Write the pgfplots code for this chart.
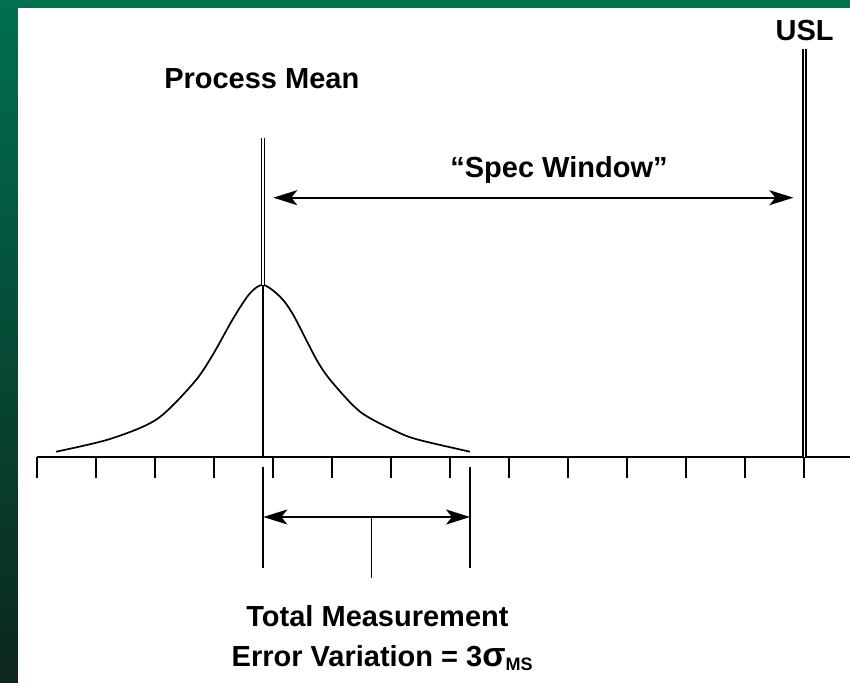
\documentclass[border=0pt]{standalone}
\usepackage{fontspec}
\setmainfont{Liberation Sans}
\usepackage{pgfplots}
\pgfplotsset{compat=1.18}
\usetikzlibrary{arrows.meta}

\definecolor{slidetop}{RGB}{0,112,80}
\definecolor{slidebot}{RGB}{12,38,30}

\begin{document}
\begin{tikzpicture}[
    lbl/.style={font=\fontsize{14.5}{17}\selectfont\bfseries, anchor=base, inner sep=0pt},
    arr/.style={line width=0.9pt, {Stealth[length=12pt,width=7.5pt,inset=3pt]}-{Stealth[length=12pt,width=7.5pt,inset=3pt]}},
]
\begin{axis}[
    width=425pt, height=341.5pt, scale only axis,
    xmin=-0.62712, xmax=13.77966,
    ymin=-226, ymax=457,
    hide axis, clip=false,
]
% slide background
\fill[top color=slidetop, bottom color=slidebot] (axis cs:-0.62712,-226) rectangle (axis cs:13.77966,457);
\fill[white] (axis cs:-0.322,-240) rectangle (axis cs:14,449);

% scale line with ticks
\draw[line width=0.9pt] (axis cs:0,0) -- (axis cs:14,0);
\addplot[ycomb, line width=0.9pt, mark=none] coordinates {
    (0,-21) (1,-21) (2,-21) (3,-21) (4,-21) (5,-21) (6,-21)
    (7,-21) (8,-21) (9,-21) (10,-21) (11,-21) (12,-21) (13,-21)
};

% measurement distribution
\addplot[smooth, line width=0.85pt, mark=none] coordinates {
    (0.322,5.3) (1.237,18) (2.029,37.7) (2.649,73.7) (2.961,100.3)
    (3.327,138.7) (3.610,163.7) (3.836,172) (4.119,160.3) (4.344,142)
    (4.741,97) (4.995,75.3) (5.475,45.3) (6.039,27) (6.436,17.7) (7.339,5.3)
};

% process mean
\draw[line width=0.9pt] (axis cs:3.836,0) -- (axis cs:3.836,172);
\draw[line width=0.6pt, double, double distance=0.9pt] (axis cs:3.836,172) -- (axis cs:3.836,319);
\node[lbl] at (axis cs:3.81,368) {Process Mean};

% USL
\draw[line width=0.6pt, double, double distance=0.9pt] (axis cs:13.008,0) -- (axis cs:13.008,408);
\node[lbl] at (axis cs:13.01,416) {USL};

% spec window
\draw[arr] (axis cs:4.005,259.3) -- (axis cs:12.82,259.3);
\node[lbl] at (axis cs:8.847,279) {``Spec Window''};

% measurement error span
\draw[line width=0.9pt] (axis cs:3.836,-10) -- (axis cs:3.836,-111);
\draw[line width=0.9pt] (axis cs:7.339,-10) -- (axis cs:7.339,-111);
\draw[arr] (axis cs:3.836,-60) -- (axis cs:7.339,-60);
\draw[line width=0.9pt] (axis cs:5.67,-60) -- (axis cs:5.67,-121);

\node[lbl] at (axis cs:5.771,-170) {Total Measurement};
\node[lbl] at (axis cs:5.85,-210) {Error Variation = 3{\fontsize{17}{17}\selectfont σ}\raisebox{-0.25ex}{\fontsize{9}{9}\selectfont MS}};
\end{axis}
\pgfresetboundingbox
\path[use as bounding box] (current axis.south west) rectangle (current axis.north east);
\end{tikzpicture}
\end{document}
